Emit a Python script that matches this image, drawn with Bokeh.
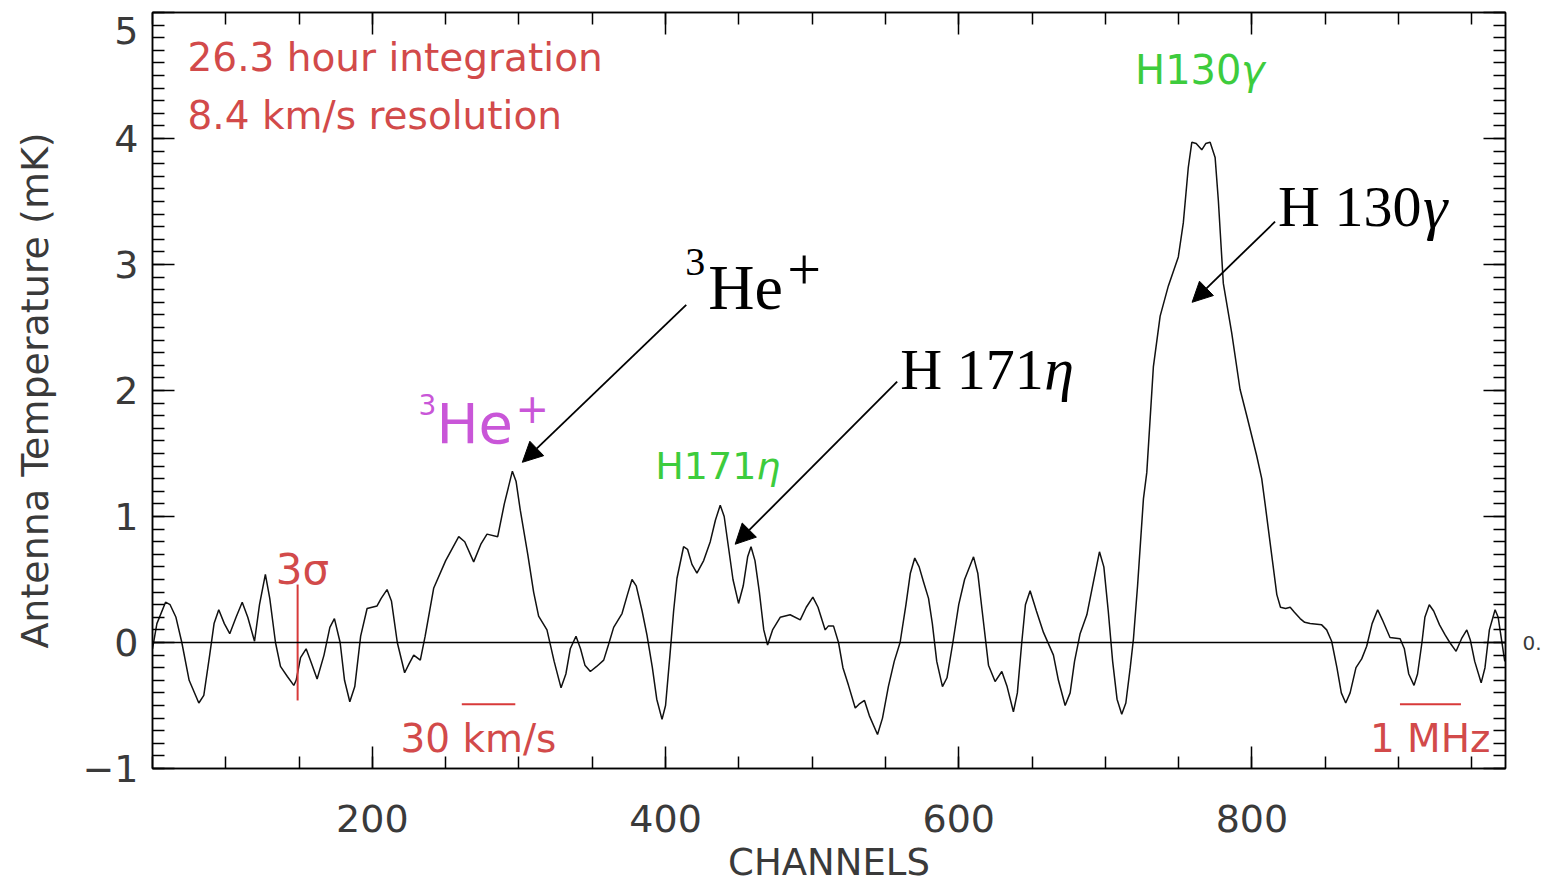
from bokeh.plotting import figure
from bokeh.models import (Range1d, SingleIntervalTicker, FixedTicker, LinearAxis, Label, Arrow,
                          NormalHead, Span, ColumnDataSource)
from bokeh.embed import file_html
from bokeh.resources import INLINE

# ---------------- data ----------------
channels = [50, 53, 58.9, 62, 66, 70, 75, 81.6, 85, 89, 92, 95.2, 99, 102.7, 107, 111.2, 115,
            119.6, 123, 127, 130, 133.9, 137.3, 142, 146.4, 148, 151, 154.8, 158, 162.3, 167,
            171, 174.1, 178, 181, 184.6, 188, 192, 196.4, 203.2, 206, 210, 213, 217, 222, 225,
            228.2, 232.7, 236, 241.8, 250, 258.9, 263, 269.1, 274, 278.2, 285.5, 290, 295.5,
            298, 300.9, 306, 310, 313.4, 319.1, 324, 328.7, 332, 335, 338.9, 342, 345, 348.7,
            353, 357.8, 361, 364.6, 370.3, 374, 377.1, 380, 384, 387.3, 391, 394, 397.6, 400,
            403, 405.5, 407.8, 412.3, 415, 418, 421.4, 426, 430.5, 434, 437.3, 440, 443, 446,
            449.8, 453, 456, 458.3, 461, 464, 467, 469.6, 473, 478.2, 485.0, 491.9, 496, 500.5,
            504, 508.9, 511, 514.6, 518, 521, 524.8, 529.4, 532, 535.7, 539, 544.6, 548, 552,
            556, 560, 564, 567, 570, 573, 576, 579.4, 582, 585, 588.9, 592, 596, 600, 604,
            610.1, 613, 616, 620.3, 624.8, 629.4, 633, 637.3, 640, 643, 645.5, 648.7, 653,
            657.8, 664.6, 668, 672.6, 676, 679, 682.8, 687.4, 691, 696.0, 699, 702, 705, 708,
            711.2, 714, 717, 719.2, 722, 726, 728.3, 732.8, 737.4, 743, 749.8, 753.2, 756.6,
            759, 762, 765.8, 768.5, 771.5, 774.9, 777.1, 780.5, 786.2, 791.9, 796.5, 803.3,
            806.7, 809, 811, 814, 817, 819.5, 823, 826.1, 829, 832.9, 836, 839.7, 847.6, 851,
            854.4, 858, 861, 864, 867, 871, 874.9, 878.3, 882, 885.8, 889, 894.2, 901.1, 904,
            907, 910.6, 913, 916, 918, 921, 924, 928, 931.8, 935, 939.3, 943, 946.6, 949, 952,
            956.4, 959, 962, 965.9, 968, 972.5]
temp_mk = [-0.05, 0.15, 0.32, 0.30, 0.20, 0.0, -0.30, -0.48, -0.42, -0.10, 0.15, 0.26, 0.15,
           0.07, 0.20, 0.32, 0.20, 0.01, 0.30, 0.54, 0.35, 0.0, -0.19, -0.27, -0.34, -0.30,
           -0.12, -0.05, -0.15, -0.29, -0.10, 0.12, 0.19, 0.0, -0.30, -0.47, -0.35, 0.05, 0.27,
           0.29, 0.35, 0.42, 0.33, 0.0, -0.24, -0.17, -0.10, -0.14, 0.05, 0.43, 0.65, 0.84, 0.80,
           0.64, 0.78, 0.86, 0.84, 1.10, 1.36, 1.28, 1.05, 0.70, 0.40, 0.21, 0.10, -0.15, -0.36,
           -0.25, -0.05, 0.05, -0.05, -0.18, -0.23, -0.19, -0.14, -0.02, 0.12, 0.23, 0.38, 0.50,
           0.45, 0.25, 0.06, -0.20, -0.45, -0.61, -0.50, -0.10, 0.25, 0.51, 0.76, 0.74, 0.62,
           0.55, 0.65, 0.80, 0.97, 1.09, 1.00, 0.75, 0.50, 0.31, 0.45, 0.68, 0.76, 0.65, 0.40,
           0.10, -0.02, 0.10, 0.20, 0.22, 0.18, 0.28, 0.36, 0.28, 0.10, 0.13, 0.13, 0.0, -0.20,
           -0.34, -0.52, -0.49, -0.46, -0.58, -0.73, -0.60, -0.35, -0.15, 0.0, 0.30, 0.55, 0.67,
           0.60, 0.48, 0.35, 0.15, -0.15, -0.35, -0.28, 0.0, 0.30, 0.50, 0.68, 0.55, 0.25, -0.18,
           -0.31, -0.23, -0.35, -0.55, -0.40, 0.0, 0.30, 0.41, 0.25, 0.08, -0.10, -0.30, -0.50,
           -0.40, -0.15, 0.07, 0.22, 0.43, 0.72, 0.60, 0.25, -0.15, -0.45, -0.57, -0.48, -0.20,
           0.03, 0.45, 1.14, 1.35, 2.19, 2.59, 2.83, 3.06, 3.33, 3.77, 3.97, 3.96, 3.91, 3.96,
           3.97, 3.85, 3.51, 2.85, 2.46, 2.01, 1.80, 1.48, 1.30, 1.10, 0.92, 0.65, 0.38, 0.28,
           0.27, 0.28, 0.24, 0.19, 0.16, 0.15, 0.14, 0.10, 0.01, -0.20, -0.40, -0.48, -0.40,
           -0.20, -0.13, -0.03, 0.15, 0.26, 0.18, 0.04, 0.03, -0.05, -0.25, -0.34, -0.25, 0.0,
           0.20, 0.30, 0.25, 0.14, 0.06, 0.0, -0.07, 0.03, 0.10, 0.02, -0.15, -0.32, -0.20, 0.10,
           0.26, 0.20, -0.15]

x_limits = (50, 973)
y_limits = (-1, 5)
x_major_step = 200
y_major_step = 1
# y tick labels; the top "5" is printed just below the frame corner in the reference
y_label_pos = [-1, 0, 1, 2, 3, 4, 4.86]
y_label_txt = ["−1", "0", "1", "2", "3", "4", "5"]

# red scale bars: 3-sigma bar, 30 km/s bar, 1 MHz bar
bar_x0 = [149, 261, 901]
bar_x1 = [149, 297.5, 942.6]
bar_y0 = [-0.46, -0.49, -0.49]
bar_y1 = [0.46, -0.49, -0.49]

# red notes (left / baseline anchored)
note_text = ["26.3 hour integration", "8.4 km/s resolution", "30  km/s", "1  MHz", "3σ"]
note_x = [73.9, 73.9, 219.1, 880.5, 152.3]
note_y = [4.64, 4.185, -0.76, -0.76, 0.58]
note_size = ["39px", "39px", "39px", "39px", "42px"]
note_align = ["left", "left", "left", "left", "center"]

# line identifications: anchor (left, baseline) of each label
line_names = ["³He⁺ (magenta)", "H171η (green)", "H130γ (green)",
              "³He⁺ (big)", "H 171η (big)", "H 130γ (big)"]
label_x = [231.4, 393.0, 720.3, 413.4, 560.1, 817.8]
label_y = [1.735, 1.40, 4.54, 2.82, 2.17, 3.46]

# arrows from big labels to the lines
arrow_x0 = [414.1, 558.0, 815.8]
arrow_y0 = [2.68, 2.07, 3.34]
arrow_x1 = [302.3, 447.5, 759.2]
arrow_y1 = [1.43, 0.78, 2.70]

# ---------------- styles ----------------
SANS = "DejaVu Sans"
SERIF = "Liberation Serif"
GREY = "#3a3a3a"
RED = "#d24a4a"
GREEN = "#3dcc3d"
MAGENTA = "#c956d8"

# pieces of each identification label: (label index, text, x_off, y_off, size, style, font, colour)
pieces = [
    (0, "3", 0, 19, "28px", "normal", SANS, MAGENTA),
    (0, "He", 18, 0, "56px", "normal", SANS, MAGENTA),
    (0, "+", 97, 16, "40px", "normal", SANS, MAGENTA),
    (1, "H171", 0, 0, "38px", "normal", SANS, GREEN),
    (1, "η", 101, 0, "38px", "italic", SANS, GREEN),
    (2, "H130", 0, 0, "40px", "normal", SANS, GREEN),
    (2, "γ", 106, 0, "40px", "italic", SANS, GREEN),
    (3, "3", 0, 25, "40px", "normal", SERIF, "black"),
    (3, "He", 23, 0, "64px", "normal", SERIF, "black"),
    (3, "+", 102, 18, "60px", "normal", SERIF, "black"),
    (4, "H 171", 0, 0, "58px", "normal", SERIF, "black"),
    (4, "η", 144, 0, "60px", "italic", SERIF, "black"),
    (5, "H 130", 0, 0, "58px", "normal", SERIF, "black"),
    (5, "γ", 145, 0, "62px", "italic", SERIF, "black"),
]

# ---------------- figure ----------------
p = figure(width=1544, height=886, output_backend="svg", toolbar_location=None,
           x_range=Range1d(*x_limits), y_range=Range1d(*y_limits),
           min_border_left=152, min_border_right=38, min_border_top=12, min_border_bottom=115)
p.xgrid.visible = False
p.ygrid.visible = False
p.outline_line_color = "black"
p.outline_line_width = 1.5
p.background_fill_color = "white"
p.border_fill_color = "white"


def style_ticks(ax):
    ax.major_tick_in = 22
    ax.major_tick_out = 0
    ax.minor_tick_in = 12
    ax.minor_tick_out = 0
    ax.axis_line_width = 1.5
    ax.major_tick_line_width = 1.5
    ax.minor_tick_line_width = 1.5
    ax.major_tick_line_color = "black"
    ax.minor_tick_line_color = "black"


# bottom axis
xax = p.xaxis[0]
xax.ticker = SingleIntervalTicker(interval=x_major_step, num_minor_ticks=4)
style_ticks(xax)
xax.major_label_text_font = SANS
xax.major_label_text_font_size = "38px"
xax.major_label_text_color = GREY
xax.axis_label = "CHANNELS"
xax.axis_label_text_font = SANS
xax.axis_label_text_font_style = "normal"
xax.axis_label_text_color = GREY
xax.axis_label_text_font_size = "37px"
xax.major_label_standoff = 36
xax.axis_label_standoff = 6

# left axis next to the frame: ticks only
yax = p.yaxis[0]
yax.ticker = SingleIntervalTicker(interval=y_major_step, num_minor_ticks=10)
style_ticks(yax)
yax.major_label_overrides = {v: "" for v in range(-2, 7)}
yax.major_label_text_font_size = "10px"
yax.major_label_standoff = 0

# outer left axis: tick labels and title only
ylab = LinearAxis(ticker=FixedTicker(ticks=y_label_pos),
                  major_label_overrides=dict(zip(y_label_pos, y_label_txt)))
ylab.axis_line_color = None
ylab.major_tick_line_color = None
ylab.minor_tick_line_color = None
ylab.major_tick_in = 0
ylab.major_tick_out = 0
ylab.major_label_standoff = 14
ylab.major_label_text_font = SANS
ylab.major_label_text_font_size = "38px"
ylab.major_label_text_color = GREY
ylab.axis_label = "Antenna Temperature (mK)"
ylab.axis_label_text_font = SANS
ylab.axis_label_text_font_style = "normal"
ylab.axis_label_text_color = GREY
ylab.axis_label_text_font_size = "38px"
ylab.axis_label_standoff = 22
p.add_layout(ylab, "left")

# mirrored axes (ticks only; the right one keeps the cut-off "0." of the reference)
top = LinearAxis(ticker=SingleIntervalTicker(interval=x_major_step, num_minor_ticks=4))
right = LinearAxis(ticker=SingleIntervalTicker(interval=y_major_step, num_minor_ticks=10))
top.major_label_overrides = {v: "" for v in range(0, 1201, 200)}
right.major_label_overrides = {v: ("0." if v == 0 else "") for v in range(-2, 7)}
for ax in (top, right):
    style_ticks(ax)
top.major_label_text_font_size = "10px"
top.major_label_standoff = 0
right.major_label_text_font_size = "20px"
right.major_label_text_color = GREY
right.major_label_text_font = SANS
right.major_label_standoff = 17
p.add_layout(top, "above")
p.add_layout(right, "right")

# zero line
p.add_layout(Span(location=0, dimension="width", line_color="black", line_width=1.5))

# spectrum
src = ColumnDataSource(dict(x=channels, y=temp_mk))
p.line("x", "y", source=src, line_color="#111111", line_width=1.5)

# red bars
p.segment(x0=bar_x0, y0=bar_y0, x1=bar_x1, y1=bar_y1, line_color="#d83a3a", line_width=2)

# red notes
for t, x, y, s, a in zip(note_text, note_x, note_y, note_size, note_align):
    p.add_layout(Label(x=x, y=y, text=t, text_align=a, text_baseline="alphabetic",
                       text_color=RED, text_font=SANS, text_font_size=s))

# identification labels
for i, t, xo, yo, s, st, f, c in pieces:
    p.add_layout(Label(x=label_x[i], y=label_y[i], x_offset=xo, y_offset=yo, text=t,
                       text_align="left", text_baseline="alphabetic", text_color=c,
                       text_font=f, text_font_size=s, text_font_style=st))

for x0, y0, x1, y1 in zip(arrow_x0, arrow_y0, arrow_x1, arrow_y1):
    p.add_layout(Arrow(end=NormalHead(size=20, fill_color="black", line_color="black"),
                       x_start=x0, y_start=y0, x_end=x1, y_end=y1,
                       line_color="black", line_width=1.8))

open("out.html", "w").write(file_html(p, INLINE))
